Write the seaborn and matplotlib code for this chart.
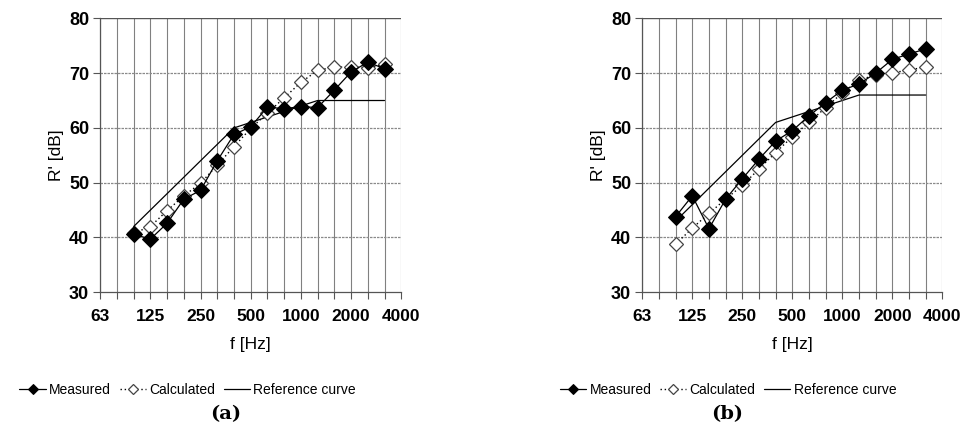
import numpy as np
import pandas as pd
import seaborn as sns
import matplotlib.pyplot as plt
from matplotlib import font_manager

# third-octave bands 63 .. 4000 Hz, data from 100 .. 3150 Hz
bands = [63, 80, 100, 125, 160, 200, 250, 315, 400, 500, 630, 800,
         1000, 1250, 1600, 2000, 2500, 3150, 4000]
octave_labels = ['63', '125', '250', '500', '1000', '2000', '4000']
data_bands = bands[2:18]

meas_a = [40.6, 39.7, 42.6, 47.0, 48.6, 54.0, 58.8, 60.2, 63.8, 63.5,
          63.9, 63.7, 66.9, 70.2, 72.0, 70.8]
calc_a = [40.8, 42.0, 44.9, 47.6, 49.9, 53.2, 56.6, 59.9, 62.7, 65.5,
          68.3, 70.5, 71.1, 71.1, 71.0, 71.6]
ref_a = [42, 45, 48, 51, 54, 57, 60, 61, 62, 63, 64, 65, 65, 65, 65, 65]

meas_b = [43.8, 47.6, 41.6, 47.0, 50.7, 54.3, 57.6, 59.5, 62.2, 64.6,
          66.9, 68.0, 70.0, 72.5, 73.5, 74.4]
calc_b = [38.8, 41.7, 44.4, 47.0, 49.5, 52.5, 55.5, 58.4, 61.0, 63.7,
          66.4, 68.7, 69.7, 70.1, 70.5, 71.2]
ref_b = [43, 46, 49, 52, 55, 58, 61, 62, 63, 64, 65, 66, 66, 66, 66, 66]

sns.set_style('white')
plt.rcParams['font.family'] = ['Liberation Sans', 'DejaVu Sans']
plt.rcParams['text.color'] = 'black'
plt.rcParams['axes.labelcolor'] = 'black'
plt.rcParams['xtick.labelcolor'] = 'black'
plt.rcParams['ytick.labelcolor'] = 'black'

# narrow font for the legend if it is there
names = {f.name for f in font_manager.fontManager.ttflist}
leg_font = 'Liberation Sans Narrow' if 'Liberation Sans Narrow' in names else 'Liberation Sans'
leg_size = 12 if leg_font == 'Liberation Sans Narrow' else 10

fig = plt.figure(figsize=(9.68, 4.32), dpi=100)
ax_a = fig.add_axes([0.1035, 0.3234, 0.311, 0.6342])
ax_b = fig.add_axes([0.6635, 0.3234, 0.310, 0.6342])


def panel(ax, meas, calc, ref, leg_x, cap_x, cap):
    df = pd.DataFrame({'pos': [bands.index(b) for b in data_bands],
                       'meas': meas, 'calc': calc, 'ref': ref})
    sns.lineplot(data=df, x='pos', y='ref', ax=ax, color='black', lw=0.9,
                 label='Reference curve', zorder=3)
    sns.lineplot(data=df, x='pos', y='calc', ax=ax, color='black', lw=1.0,
                 linestyle=(0, (1, 2)), marker='D', markersize=7,
                 markerfacecolor='white', markeredgecolor='#444444',
                 markeredgewidth=0.9, label='Calculated', zorder=4)
    sns.lineplot(data=df, x='pos', y='meas', ax=ax, color='black', lw=0.9,
                 marker='D', markersize=8, markerfacecolor='black',
                 markeredgecolor='black', label='Measured', zorder=5)

    ax.set_xlim(0, len(bands) - 1)
    ax.set_ylim(30, 80)
    ax.set_xticks(range(len(bands)))
    ax.set_xticklabels([str(b) if str(b) in octave_labels else ''
                        for b in bands], fontweight='bold', fontsize=12.5)
    ax.set_yticks([30, 40, 50, 60, 70, 80])
    ax.set_yticklabels(['30', '40', '50', '60', '70', '80'],
                       fontweight='bold', fontsize=13)
    ax.tick_params(axis='x', direction='out', length=5, width=0.8,
                   color='#555555', pad=7, bottom=True)
    ax.tick_params(axis='y', direction='out', length=5, width=0.8,
                   color='#555555', pad=3, left=True)

    for i in range(len(bands)):
        ax.axvline(i, color='#808080', lw=0.8, zorder=1)
    for y in [40, 50, 60, 70]:
        ax.axhline(y, color='#8a8a8a', lw=0.9, linestyle=(0, (2, 0.8)), zorder=1)
    ax.axhline(80, color='#555555', lw=1.0, zorder=1)

    for s in ['top', 'right']:
        ax.spines[s].set_visible(False)
    ax.spines['left'].set_color('#555555')
    ax.spines['bottom'].set_color('#555555')
    ax.spines['left'].set_linewidth(0.9)
    ax.spines['bottom'].set_linewidth(0.9)

    ax.set_xlabel('f [Hz]', fontsize=12.5)
    ax.xaxis.set_label_coords(0.5, -0.165)
    ax.set_ylabel("R' [dB]", fontsize=12.5)
    ax.yaxis.set_label_coords(-0.12, 0.5)

    h, l = ax.get_legend_handles_labels()
    order = [l.index('Measured'), l.index('Calculated'), l.index('Reference curve')]
    ax.legend([h[i] for i in order], [l[i] for i in order], loc='center',
              bbox_to_anchor=(leg_x, 0.097), bbox_transform=fig.transFigure,
              ncol=3, frameon=False, handlelength=1.9,
              prop={'family': leg_font, 'size': leg_size},
              handletextpad=0.25, columnspacing=0.6, markerscale=0.7)
    fig.text(cap_x, 0.042, cap, ha='center', va='center', fontsize=14,
             fontweight='bold', family='DejaVu Serif')


panel(ax_a, meas_a, calc_a, ref_a, 0.194, 0.233, '(a)')
panel(ax_b, meas_b, calc_b, ref_b, 0.752, 0.751, '(b)')

fig.savefig('out.png', dpi=100)
